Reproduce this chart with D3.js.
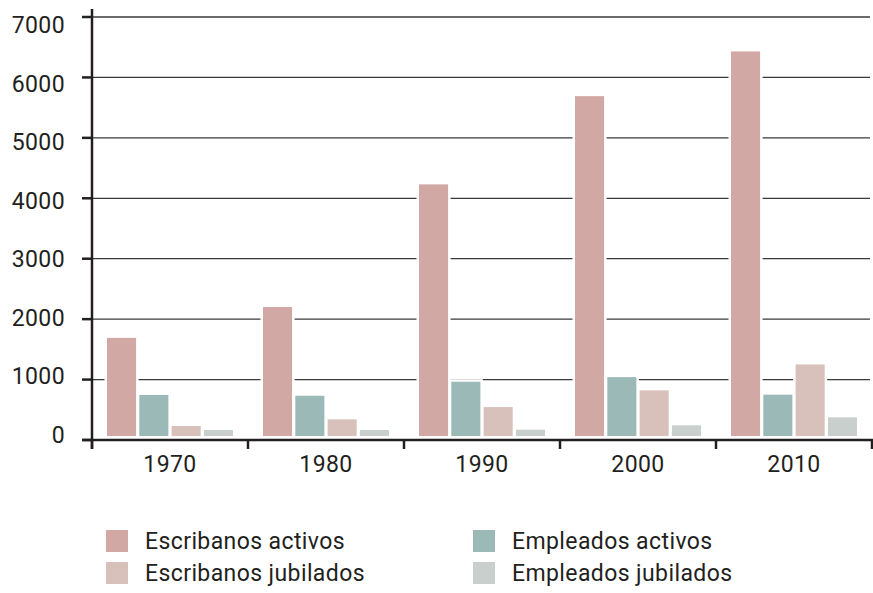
<!DOCTYPE html>
<html>
  <head>
    <meta charset="utf-8">
    <script src="https://cdn.jsdelivr.net/npm/d3@7"></script>
    <style>
      body { margin: 0; background: #fff; }
      svg text { font-family: Roboto, sans-serif; fill: #231f20; letter-spacing: 0.4px; }
    </style>
  </head>
  <body>
    <svg id="chart" width="873" height="593"></svg>
    <script>

    var years = ["1970", "1980", "1990", "2000", "2010"];
    var series = ["Escribanos activos", "Empleados activos", "Escribanos jubilados", "Empleados jubilados"];
    var escribanosActivos = [1690, 2200, 4230, 5690, 6430];
    var empleadosActivos = [745, 732, 965, 1040, 750];
    var escribanosJubilados = [232, 342, 545, 822, 1250];
    var empleadosJubilados = [165, 165, 170, 243, 375];
    var yTicks = [0, 1000, 2000, 3000, 4000, 5000, 6000, 7000];
    var colors = ["#d1a8a4", "#9bb9b7", "#d9c1bb", "#c8cfcc"];

    var values = [escribanosActivos, empleadosActivos, escribanosJubilados, empleadosJubilados];
    var data = years.map(function(yr, i) {
      return { year: yr, vals: series.map(function(s, j) { return { key: s, value: values[j][i], c: colors[j] }; }) };
    });

    var svg = d3.select("#chart");
    var mLeft = 92, mRight = 872, mTop = 17, mBottom = 440;

    var x = d3.scaleBand().domain(years).range([mLeft, mRight]);
    var x1 = d3.scaleBand().domain(series).range([15, x.bandwidth() - 15]).paddingInner(0.1);
    var y = d3.scaleLinear().domain([0, 7000]).range([mBottom, mTop]);
    // tick labels sit on a slightly tighter spacing than the gridlines
    var yLab = d3.scaleLinear().domain([0, 7000]).range([434.5, 25]);

    // gridlines
    svg.append("g").selectAll("line")
      .data(yTicks.slice(1))
      .enter().append("line")
      .attr("x1", mLeft).attr("x2", 870)
      .attr("y1", function(d) { return y(d); })
      .attr("y2", function(d) { return y(d); })
      .attr("stroke", "#3a3a3a")
      .attr("stroke-width", 1.3);

    // bars
    var group = svg.append("g").selectAll("g")
      .data(data)
      .enter().append("g")
      .attr("transform", function(d) { return "translate(" + x(d.year) + ",0)"; });

    group.selectAll("rect")
      .data(function(d) { return d.vals; })
      .enter().append("rect")
      .attr("x", function(d) { return x1(d.key); })
      .attr("y", function(d) { return y(d.value); })
      .attr("width", x1.bandwidth())
      .attr("height", function(d) { return y(0) - 4 - y(d.value); })
      .attr("fill", function(d) { return d.c; })
      .attr("stroke", "#fff")
      .attr("stroke-width", 5)
      .style("paint-order", "stroke");

    // y axis
    svg.append("line")
      .attr("x1", mLeft).attr("x2", mLeft)
      .attr("y1", 9).attr("y2", 449)
      .attr("stroke", "#231f20").attr("stroke-width", 2.5);

    svg.append("g").selectAll("line")
      .data(yTicks)
      .enter().append("line")
      .attr("x1", 82).attr("x2", mLeft)
      .attr("y1", function(d) { return y(d); })
      .attr("y2", function(d) { return y(d); })
      .attr("stroke", "#231f20").attr("stroke-width", 2.5);

    svg.append("g").selectAll("text")
      .data(yTicks)
      .enter().append("text")
      .attr("x", 65)
      .attr("y", function(d) { return yLab(d); })
      .attr("dy", "0.36em")
      .attr("text-anchor", "end")
      .style("font-size", "23px")
      .text(function(d) { return d; });

    // x axis
    svg.append("line")
      .attr("x1", 82).attr("x2", mRight + 1)
      .attr("y1", mBottom).attr("y2", mBottom)
      .attr("stroke", "#231f20").attr("stroke-width", 2.5);

    svg.append("g").selectAll("line")
      .data(years.concat(["end"]))
      .enter().append("line")
      .attr("x1", function(d, i) { return mLeft + i * x.bandwidth(); })
      .attr("x2", function(d, i) { return mLeft + i * x.bandwidth(); })
      .attr("y1", mBottom).attr("y2", 449)
      .attr("stroke", "#231f20").attr("stroke-width", 2.5);

    svg.append("g").selectAll("text")
      .data(years)
      .enter().append("text")
      .attr("x", function(d) { return x(d) + x.bandwidth() / 2; })
      .attr("y", 472)
      .attr("text-anchor", "middle")
      .style("font-size", "23px")
      .text(function(d) { return d; });

    // legend
    var legend = svg.append("g").selectAll("g")
      .data(series)
      .enter().append("g")
      .attr("transform", function(d, i) {
        return "translate(" + (i % 2 === 0 ? 106 : 473) + "," + (i < 2 ? 530 : 562) + ")";
      });

    legend.append("rect")
      .attr("width", 22).attr("height", 22)
      .attr("fill", function(d, i) { return colors[i]; });

    legend.append("text")
      .attr("x", 39)
      .attr("y", 19)
      .style("font-size", "23px")
      .text(function(d) { return d; });

    </script>
  </body>
</html>
